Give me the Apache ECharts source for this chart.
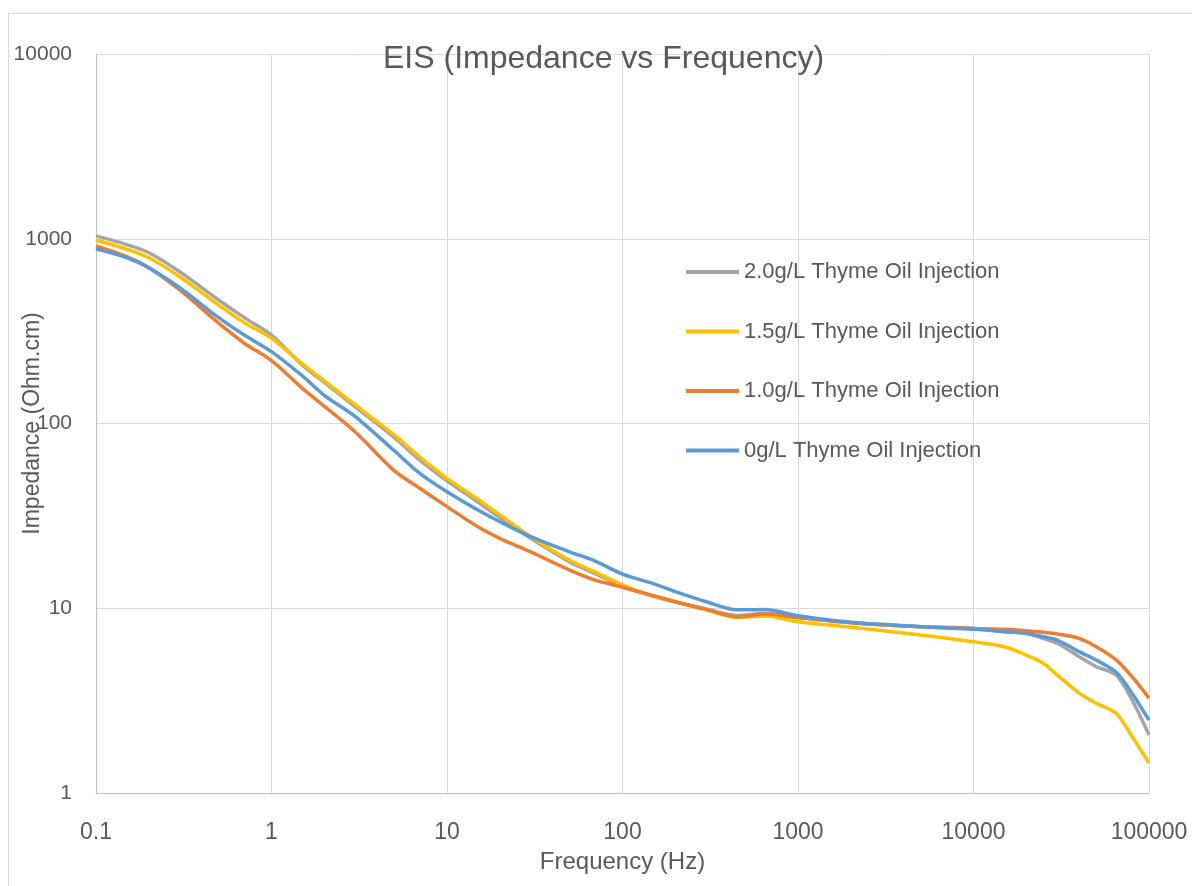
<!DOCTYPE html>
<html>
<head>
<meta charset="utf-8">
<script src="https://cdn.jsdelivr.net/npm/echarts@6/dist/echarts.min.js"></script>
<style>
  html, body { margin: 0; padding: 0; background: #fff; }
  #frame { position: absolute; left: 8px; top: 13px; width: 1190px; height: 880px; border: 1px solid #d9d9d9; box-sizing: border-box; }
  #chart { position: absolute; left: 0; top: 0; width: 1192px; height: 886px; }
</style>
</head>
<body>
<div id="frame"></div>
<div id="chart"></div>
<script>
// frequency (Hz) sample points
const freq = [0.1, 0.15, 0.2, 0.3, 0.5, 0.7, 1, 1.5, 2, 3, 5, 7, 10, 15, 20, 30, 50, 70, 100, 150, 200, 300, 450, 650, 1000, 2000, 5000, 10000, 15000, 20000, 25000, 30000, 40000, 50000, 65000, 80000, 100000];

const oil20 = [1036, 929, 840, 663, 466, 374, 301, 207, 167, 123, 84, 63.4, 49, 37.6, 31.0, 23.9, 17.8, 15.4, 13.1, 11.6, 10.8, 9.9, 9.13, 9.4, 8.9, 8.35, 7.95, 7.78, 7.47, 7.31, 6.87, 6.46, 5.47, 4.83, 4.35, 3.19, 2.06];
const oil15 = [985, 877, 789, 623, 437, 351, 289, 210, 170, 126, 86.7, 66, 50.5, 38.9, 32, 24.4, 18.2, 15.7, 13.4, 11.6, 10.85, 9.8, 8.93, 9.08, 8.45, 7.9, 7.17, 6.59, 6.19, 5.58, 5.04, 4.35, 3.47, 3.06, 2.70, 2.02, 1.45];
const oil10 = [916, 800, 697, 528, 349, 272, 219, 155, 124, 90, 55.6, 44.6, 35.5, 27.6, 23.9, 20.2, 16.1, 14.2, 13.0, 11.7, 10.85, 9.86, 9.0, 9.3, 8.9, 8.35, 7.95, 7.78, 7.69, 7.56, 7.41, 7.26, 6.87, 6.19, 5.25, 4.26, 3.26];
const oil00 = [881, 789, 697, 543, 374, 301, 245, 181, 142, 109, 71.3, 53.7, 42.7, 34.0, 29.4, 24.4, 20.2, 18.0, 15.3, 13.6, 12.3, 10.85, 9.8, 9.86, 9.1, 8.4, 7.95, 7.69, 7.47, 7.31, 7.01, 6.73, 5.82, 5.25, 4.5, 3.47, 2.48];

const seriesNames = ['2.0g/L Thyme Oil Injection', '1.5g/L Thyme Oil Injection', '1.0g/L Thyme Oil Injection', '0g/L Thyme Oil Injection'];
const seriesValues = [oil20, oil15, oil10, oil00];
const colors = ['#a5a5a5', '#ffc000', '#ed7d31', '#5b9bd5'];

const font = 'Liberation Sans, Arial, sans-serif';
const textColor = '#595959';

const chart = echarts.init(document.getElementById('chart'), null, { renderer: 'canvas' });

const fmt = (v) => (v < 1 ? String(Number(v.toFixed(1))) : String(Math.round(v)));

chart.setOption({
  animation: false,
  color: colors,
  title: {
    text: 'EIS (Impedance vs Frequency)',
    left: 378,
    top: 38,
    textStyle: { fontFamily: font, fontSize: 32, fontWeight: 'normal', color: textColor }
  },
  legend: {
    orient: 'vertical',
    left: 681,
    top: 255,
    icon: 'rect',
    itemWidth: 53,
    itemHeight: 4,
    itemGap: 35.5,
    textStyle: { fontFamily: font, fontSize: 22, color: textColor, lineHeight: 24 },
    data: seriesNames
  },
  grid: { left: 96, right: 43, top: 54, bottom: 93, containLabel: false, outerBoundsMode: 'none' },
  xAxis: {
    type: 'log',
    logBase: 10,
    min: 0.1,
    max: 100000,
    name: 'Frequency (Hz)',
    nameLocation: 'middle',
    nameGap: 57,
    nameMoveOverlap: false,
    nameTextStyle: { fontFamily: font, fontSize: 24, color: textColor },
    axisLine: { show: true, lineStyle: { color: '#bfbfbf', width: 1 } },
    axisTick: { show: false },
    axisLabel: { fontFamily: font, fontSize: 23, color: textColor, margin: 28, formatter: fmt },
    splitLine: { show: true, lineStyle: { color: '#d9d9d9', width: 1 } }
  },
  yAxis: {
    type: 'log',
    logBase: 10,
    min: 1,
    max: 10000,
    name: 'Impedance (Ohm.cm)',
    nameLocation: 'middle',
    nameGap: 52,
    nameMoveOverlap: false,
    nameTextStyle: { fontFamily: font, fontSize: 23, color: textColor },
    axisLine: { show: true, lineStyle: { color: '#bfbfbf', width: 1 } },
    axisTick: { show: false },
    axisLabel: { fontFamily: font, fontSize: 21, color: textColor, margin: 24, formatter: fmt },
    splitLine: { show: true, lineStyle: { color: '#d9d9d9', width: 1 } }
  },
  series: seriesNames.map((name, i) => ({
    name,
    type: 'line',
    smooth: 0.3,
    symbol: 'none',
    lineStyle: { width: 3.5, color: colors[i] },
    data: freq.map((f, j) => [f, seriesValues[i][j]])
  }))
});
</script>
</body>
</html>
